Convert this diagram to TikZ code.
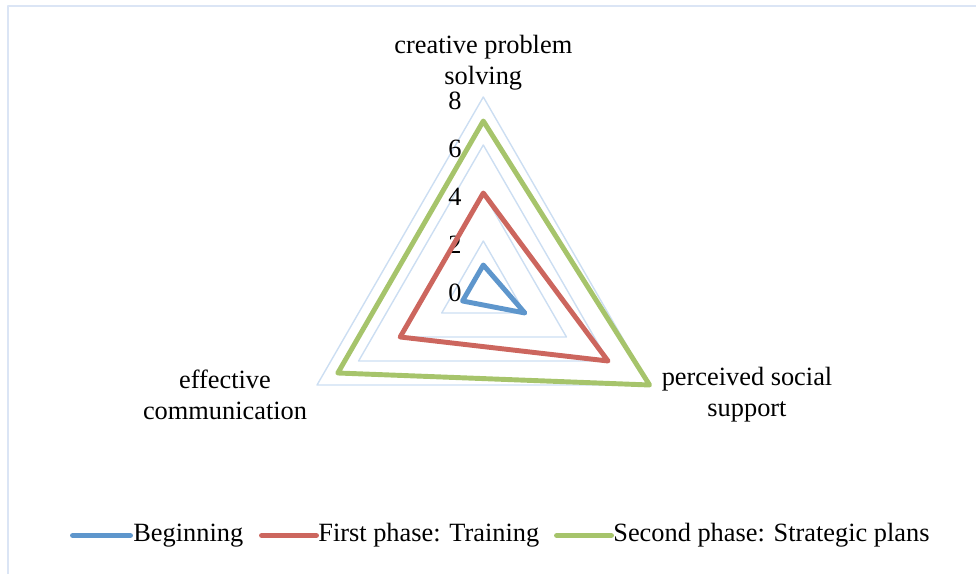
\documentclass[tikz,border=0pt]{standalone}
\usepackage{fontspec}
\setmainfont{Liberation Serif}
\usepackage{tikz}
\usetikzlibrary{calc}
\definecolor{gridblue}{rgb}{0.80,0.87,0.95}
\definecolor{frameblue}{rgb}{0.86,0.90,0.96}
\definecolor{begblue}{rgb}{0.37,0.59,0.80}
\definecolor{trainred}{rgb}{0.80,0.40,0.37}
\definecolor{plangreen}{rgb}{0.65,0.77,0.42}
\tikzstyle{every node}=[font=\fontsize{15}{17.5}\selectfont]

\begin{document}
\begin{tikzpicture}[line cap=round,line join=round,x=1.0cm,y=1.0cm]
            \clip(0.,0.) rectangle (19.52,11.46);
            \draw [line width=1.2pt,color=frameblue] (0.16,-1.) -- (0.16,11.34) -- (20.5,11.34);
            % grid
            \draw [line width=0.8pt,color=gridblue] (9.666,6.64) -- (10.4974,5.2) -- (8.8346,5.2) -- cycle;
            \draw [line width=0.8pt,color=gridblue] (9.666,7.6) -- (11.3288,4.72) -- (8.0032,4.72) -- cycle;
            \draw [line width=0.8pt,color=gridblue] (9.666,8.56) -- (12.1602,4.24) -- (7.1718,4.24) -- cycle;
            \draw [line width=0.8pt,color=gridblue] (9.666,9.52) -- (12.9915,3.76) -- (6.3405,3.76) -- cycle;
            \node [anchor=east,inner sep=0pt] (t0) at (9.24,5.60) {0};
            \node [anchor=east,inner sep=0pt] (t2) at (9.24,6.56) {2};
            \node [anchor=east,inner sep=0pt] (t4) at (9.24,7.52) {4};
            \node [anchor=east,inner sep=0pt] (t6) at (9.24,8.48) {6};
            \node [anchor=east,inner sep=0pt] (t8) at (9.24,9.44) {8};
            % series
            \draw [line width=2.8pt,color=begblue] (9.666,6.16) -- (10.4974,5.2) -- (9.2503,5.44) -- cycle;
            \draw [line width=2.8pt,color=trainred] (9.666,7.6) -- (12.1602,4.24) -- (8.0032,4.72) -- cycle;
            \draw [line width=2.8pt,color=plangreen] (9.666,9.04) -- (12.9915,3.76) -- (6.7562,4.0) -- cycle;
            \node [align=center] (creative) at (9.666,10.2) {creative problem\\solving};
            \node [align=center] (perceived) at (14.94,3.56) {perceived social\\support};
            \node [align=center] (effective) at (4.5,3.56) {effective\\communication};
            % legend
            \draw [line width=3.4pt,color=begblue] (1.46,0.75) -- (2.6,0.75);
            \node [anchor=west,inner sep=0pt] (beginning) at (2.66,0.75) {Beginning};
            \draw [line width=3.4pt,color=trainred] (5.24,0.75) -- (6.32,0.75);
            \node [anchor=west,inner sep=0pt] (training) at (6.36,0.75) {First phase: Training};
            \draw [line width=3.4pt,color=plangreen] (11.14,0.75) -- (12.22,0.75);
            \node [anchor=west,inner sep=0pt] (plans) at (12.26,0.75) {Second phase: Strategic plans};
            \end{tikzpicture}
\end{document}
